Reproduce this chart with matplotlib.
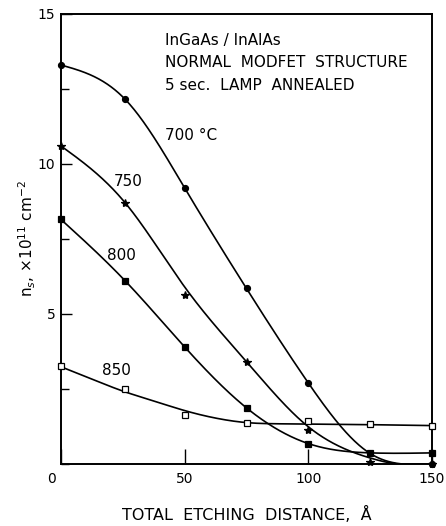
import numpy as np
import matplotlib
matplotlib.use("Agg")
import matplotlib.pyplot as plt
from matplotlib.ticker import MultipleLocator
from matplotlib.transforms import ScaledTranslation

px_700 = [0, 26, 50, 75, 100, 150]
py_700 = [13.3, 12.15, 9.2, 5.85, 2.7, 0.0]
px_750 = [0, 26, 50, 75, 100, 125, 150]
py_750 = [10.6, 8.7, 5.63, 3.41, 1.13, 0.07, 0.0]
px_800 = [0, 26, 50, 75, 100, 125, 150]
py_800 = [8.15, 6.1, 3.9, 1.87, 0.65, 0.37, 0.37]
px_850 = [0, 26, 50, 75, 100, 125, 150]
py_850 = [3.28, 2.5, 1.63, 1.36, 1.43, 1.33, 1.28]

# ---- hand-drawn fitted curves ----
cx_700 = [0, 26, 50, 75, 100, 125, 138, 150]
cy_700 = [13.3, 12.15, 9.2, 5.85, 2.7, 0.35, 0.0, 0.0]
cx_750 = [0, 26, 50, 75, 100, 125, 136, 150]
cy_750 = [10.6, 8.7, 5.9, 3.41, 1.24, 0.2, 0.0, 0.0]
cx_800 = [0, 26, 50, 75, 100, 125, 150]
cy_800 = [8.15, 6.1, 3.9, 1.87, 0.68, 0.37, 0.37]
cx_850 = [0, 12.5, 25, 37.5, 50, 62.5, 75, 87.5, 100, 125, 150]
cy_850 = [3.24, 2.83, 2.43, 2.1, 1.78, 1.53, 1.38, 1.34, 1.33, 1.31, 1.28]

series_labels = ["700 \u00b0C", "750", "800", "850"]
note_lines = ["InGaAs / InAlAs", "NORMAL  MODFET  STRUCTURE", "5 sec.  LAMP  ANNEALED"]
x_ticks = [0, 50, 100, 150]
y_ticks = [5, 10, 15]


def natural_spline(x, y, xs):
    x = np.asarray(x, float)
    y = np.asarray(y, float)
    n = len(x)
    h = np.diff(x)
    A = np.zeros((n, n))
    r = np.zeros(n)
    A[0, 0] = 1.0
    A[-1, -1] = 1.0
    for i in range(1, n - 1):
        A[i, i - 1] = h[i - 1]
        A[i, i] = 2 * (h[i - 1] + h[i])
        A[i, i + 1] = h[i]
        r[i] = 6 * ((y[i + 1] - y[i]) / h[i] - (y[i] - y[i - 1]) / h[i - 1])
    M = np.linalg.solve(A, r)
    idx = np.clip(np.searchsorted(x, xs) - 1, 0, n - 2)
    x0, x1 = x[idx], x[idx + 1]
    hh = h[idx]
    a = (x1 - xs) / hh
    b = (xs - x0) / hh
    return (a * y[idx] + b * y[idx + 1]
            + ((a**3 - a) * M[idx] + (b**3 - b) * M[idx + 1]) * hh**2 / 6)


fig = plt.figure(figsize=(4.46, 5.26), dpi=100)
ax = fig.add_axes([0.1368, 0.1179, 0.8318, 0.8555])

xs = np.linspace(0, 150, 600)
lw = 1.2
for cx, cy, pxs, pys, kw in [
    (cx_700, cy_700, px_700, py_700, dict(marker="o", ms=4.3, mfc="black")),
    (cx_750, cy_750, px_750, py_750, dict(marker="*", ms=6.0, mfc="black")),
    (cx_800, cy_800, px_800, py_800, dict(marker="s", ms=4.0, mfc="black")),
    (cx_850, cy_850, px_850, py_850, dict(marker="s", ms=3.8, mfc="white")),
]:
    ys = np.maximum(natural_spline(cx, cy, xs), 0.0)
    ax.plot(xs, ys, color="black", lw=lw, zorder=2)
    ax.plot(pxs, pys, ls="none", color="black", mec="black", mew=0.9, zorder=3, clip_on=False, **kw)

fs = 11
ax.text(42, 10.95, series_labels[0], fontsize=fs, va="center", ha="left")
ax.text(21.5, 9.4, series_labels[1], fontsize=fs, va="center", ha="left")
ax.text(18.5, 6.95, series_labels[2], fontsize=fs, va="center", ha="left")
ax.text(16.5, 3.1, series_labels[3], fontsize=fs, va="center", ha="left")

for i, line in enumerate(note_lines):
    ax.text(42, 14.13 - i * 0.75, line, fontsize=fs, va="center", ha="left")

ax.set_xlim(0, 150)
ax.set_ylim(0, 15)
ax.set_xticks(x_ticks)
ax.set_xticklabels([str(v) for v in x_ticks])
ax.set_yticks(y_ticks)
ax.set_yticklabels([str(v) for v in y_ticks])
ax.yaxis.set_minor_locator(MultipleLocator(2.5))
ax.tick_params(axis="both", which="major", direction="in", length=8, width=1.0, labelsize=10, pad=4)
ax.tick_params(axis="y", which="minor", direction="in", length=6, width=1.0)
ax.tick_params(axis="x", which="major", length=11, pad=6)
lab0 = ax.get_xticklabels()[0]
lab0.set_transform(lab0.get_transform() + ScaledTranslation(-0.1, 0, fig.dpi_scale_trans))
for s in ax.spines.values():
    s.set_linewidth(1.4)

ax.set_xlabel("TOTAL  ETCHING  DISTANCE,  \u00c5", fontsize=11.5, labelpad=14)
ax.set_ylabel(r"n$_s$, $\times$10$^{11}$ cm$^{-2}$", fontsize=11)
ax.yaxis.set_label_coords(-0.062, 0.5)

fig.savefig("out.png", dpi=100, facecolor="white")
